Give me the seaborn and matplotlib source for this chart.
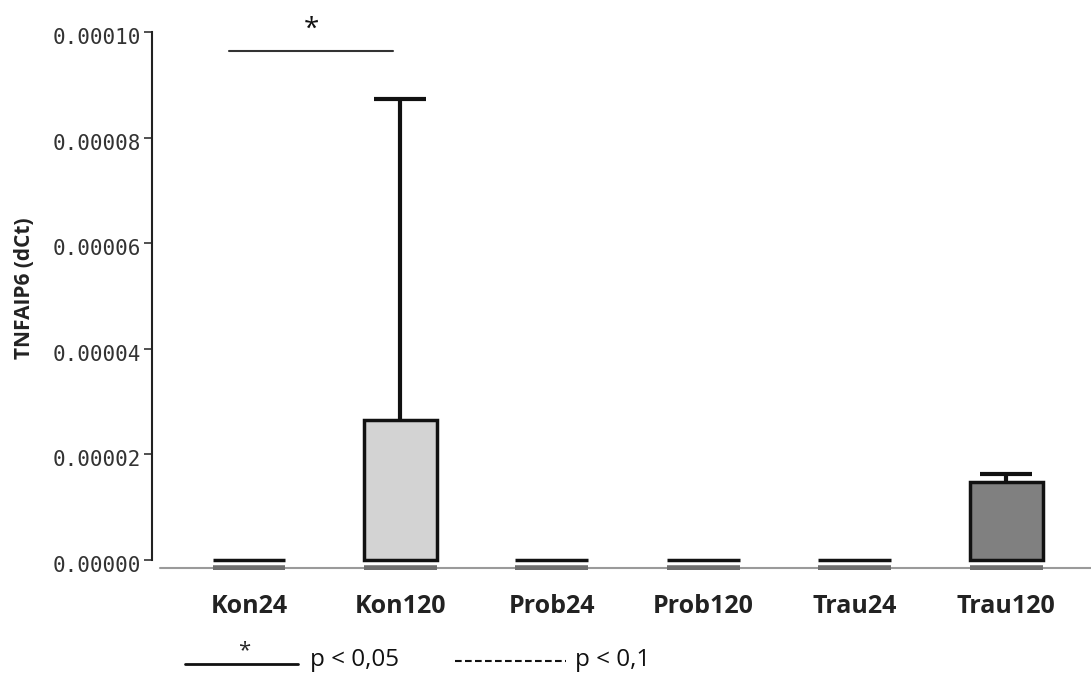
import matplotlib
matplotlib.use("Agg")
import matplotlib.pyplot as plt
import matplotlib.transforms as mtransforms
import seaborn as sns
import pandas as pd
from matplotlib.lines import Line2D

# ---- data ----
groups = ["Kon24", "Kon120", "Prob24", "Prob120", "Trau24", "Trau120"]
means = [0.0, 2.65e-5, 0.0, 0.0, 0.0, 1.48e-5]
err_upper = [0.0, 6.08e-5, 0.0, 0.0, 0.0, 0.15e-5]
bar_colors = ["#ffffff", "#d3d3d3", "#ffffff", "#ffffff", "#ffffff", "#808080"]
yticks = [0.0, 2e-5, 4e-5, 6e-5, 8e-5, 1e-4]
ytick_labels = ["0.00000", "0.00002", "0.00004", "0.00006", "0.00008", "0.00010"]
sig_y = 9.65e-5

df = pd.DataFrame({"group": groups, "value": means})

sns.set_style("white")
plt.rcParams["font.family"] = ["Open Sans", "DejaVu Sans"]

fig = plt.figure(figsize=(10.91, 6.77), dpi=100)
ax = fig.add_axes([152 / 1091, 1 - 570 / 677, 1 - 152 / 1091, 540 / 677])

sns.barplot(data=df, x="group", y="value", hue="group", palette=bar_colors,
            order=groups, hue_order=groups, legend=False, width=0.48,
            edgecolor="#111111", linewidth=2.5, errorbar=None, ax=ax,
            saturation=1)

centers = [p.get_x() + p.get_width() / 2 for p in ax.patches]
widths = [p.get_width() for p in ax.patches]

# error bars (upper only), only where visible
for c, m, e in zip(centers, means, err_upper):
    if e > 0:
        _, caps, _ = ax.errorbar([c], [m], yerr=[[0], [e]], fmt="none",
                                 ecolor="#111111", elinewidth=3, capsize=19,
                                 capthick=3, zorder=1)
        caps[0].set_visible(False)  # no lower cap

ax.set_ylim(-1.89e-6, 1.004e-4)
ax.set_xlim(-0.64, 5.56)

# x axis line (gray, slightly below zero) and gray bar bottoms
base_y = -1.5e-6
ax.axhline(base_y, xmin=0.009, color="#9a9a9a", lw=1.5, zorder=0)
for c, w in zip(centers, widths):
    ax.hlines(base_y, c - w / 2, c + w / 2, color="#6e6e6e", lw=4, zorder=3)

# spines
for s in ["top", "right", "bottom"]:
    ax.spines[s].set_visible(False)
ax.spines["left"].set_bounds(0, 1e-4)
ax.spines["left"].set_color("#222222")
ax.spines["left"].set_linewidth(1.5)

ax.set_yticks(yticks)
ax.set_yticklabels(ytick_labels, family="DejaVu Sans Mono", fontsize=15,
                   color="#333333")
ax.tick_params(axis="y", direction="out", length=6, width=1.2, color="#333333",
               pad=2, left=True)
shift = mtransforms.ScaledTranslation(0, -4 / 100, fig.dpi_scale_trans)
for lab in ax.get_yticklabels():
    lab.set_transform(lab.get_transform() + shift)

ax.tick_params(axis="x", length=0, pad=17)
for lab in ax.get_xticklabels():
    lab.set_fontweight("bold")
    lab.set_fontsize(18)
    lab.set_color("#222222")

ax.set_xlabel("")
ax.set_ylabel("TNFAIP6 (dCt)", fontsize=15, fontweight="bold",
              color="#222222")
ax.yaxis.set_label_coords(-0.1246, 0.522)

# significance line
x0 = centers[0] - 0.13
x1 = centers[1] - 0.05
ax.plot([x0, x1], [sig_y, sig_y], color="#333333", lw=1.5, clip_on=False)
ax.text((x0 + x1) / 2, sig_y + 1.3e-6, "*", ha="center", va="bottom",
        fontsize=20, color="#111111")

# bottom legend
fig.add_artist(Line2D([185 / 1091, 298 / 1091], [1 - 664 / 677] * 2,
                      color="#111111", lw=2))
fig.text(244 / 1091, 1 - 651 / 677, "*", ha="center", va="center", fontsize=16)
fig.text(310 / 1091, 1 - 660 / 677, "p < 0,05", ha="left", va="center",
         fontsize=17.5, color="#111111")
fig.add_artist(Line2D([455 / 1091, 566 / 1091], [1 - 661 / 677] * 2,
                      color="#111111", lw=1.5, ls=(0, (3.2, 1.6))))
fig.text(575 / 1091, 1 - 660 / 677, "p < 0,1", ha="left", va="center",
         fontsize=17.5, color="#111111")

fig.savefig("out.png", dpi=100)
